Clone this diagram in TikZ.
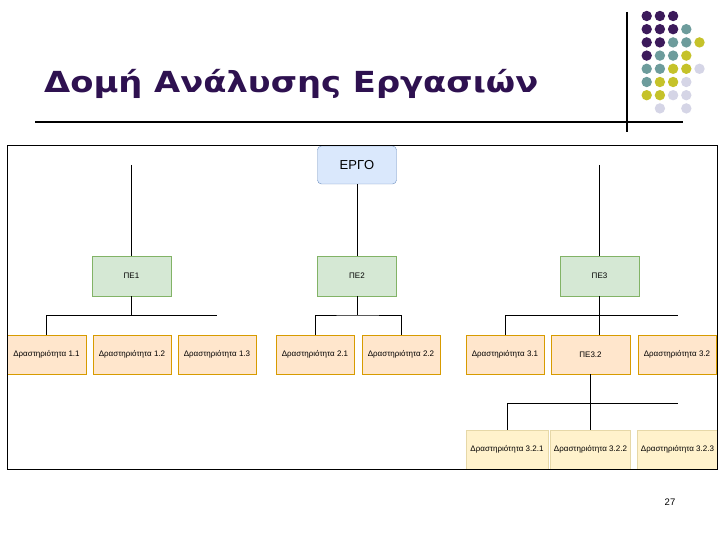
\documentclass[tikz,border=0pt]{standalone}
\usepackage{fontspec}
\setmainfont{Liberation Sans}
\newfontfamily\titlefont{DejaVu Sans}
\definecolor{titlepurple}{HTML}{2E1150}
\definecolor{dotpurple}{HTML}{3C1A5B}
\definecolor{dotteal}{HTML}{6D9C9C}
\definecolor{dotyellow}{HTML}{C5C22A}
\definecolor{dotlilac}{HTML}{D5D5E6}
\definecolor{rootfill}{HTML}{DAE8FC}
\definecolor{rootline}{HTML}{6C8EBF}
\definecolor{wpfill}{HTML}{D5E8D4}
\definecolor{wpline}{HTML}{82B366}
\definecolor{actfill}{HTML}{FFE6CC}
\definecolor{actline}{HTML}{D79B00}
\definecolor{subfill}{HTML}{FFF2CC}
\definecolor{subline}{HTML}{E6D8A8}
\tikzset{
  rootbox/.style={draw=rootline, fill=rootfill, rounded corners=4pt, minimum width=79pt, minimum height=38pt, font=\fontsize{13}{15}\selectfont},
  wpbox/.style={draw=wpline, fill=wpfill, minimum width=79pt, minimum height=40pt, font=\fontsize{8}{9}\selectfont},
  actbox/.style={draw=actline, fill=actfill, minimum width=78.5pt, minimum height=39pt, font=\fontsize{8}{9}\selectfont},
  subbox/.style={draw=subline, fill=subfill, minimum width=79pt, minimum height=39pt, font=\fontsize{8}{9}\selectfont},
  link/.style={line width=0.9pt}
}
\begin{document}
\begin{tikzpicture}[x=1pt, y=-1pt]
    \useasboundingbox (0,0) rectangle (720,540);
    % Titolo
    \node[anchor=base west, inner sep=0pt, text=titlepurple, font=\titlefont\bfseries\fontsize{29}{34}\selectfont] (title) at (44,93) {\scalebox{1.165}[1]{Δομή Ανάλυσης Εργασιών}};
    \draw[line width=2pt] (35,122) -- (683,122);
    \draw[line width=1.3pt] (627,12) -- (627,132);
    % Pallini
    \foreach \c/\r/\col in {1/1/dotpurple, 2/1/dotpurple, 3/1/dotpurple,
        1/2/dotpurple, 2/2/dotpurple, 3/2/dotpurple, 4/2/dotteal,
        1/3/dotpurple, 2/3/dotpurple, 3/3/dotteal, 4/3/dotteal, 5/3/dotyellow,
        1/4/dotpurple, 2/4/dotteal, 3/4/dotteal, 4/4/dotyellow,
        1/5/dotteal, 2/5/dotteal, 3/5/dotyellow, 4/5/dotyellow, 5/5/dotlilac,
        1/6/dotteal, 2/6/dotyellow, 3/6/dotyellow, 4/6/dotlilac,
        1/7/dotyellow, 2/7/dotyellow, 3/7/dotlilac, 4/7/dotlilac,
        2/8/dotlilac, 4/8/dotlilac}
        \fill[\col] ({633.5+13.2*\c},{2.8+13.2*\r}) circle (5.2pt);
    % Radice
    \node[rootbox] (ergo) at (357,165) {ΕΡΓΟ};
    % Pacchetti di lavoro
    \node[wpbox] (pe1) at (131.5,276) {ΠΕ1};
    \node[wpbox] (pe2) at (357,276) {ΠΕ2};
    \node[wpbox] (pe3) at (599.5,276) {ΠΕ3};
    % Attivita
    \node[actbox] (a11) at (46.5,354.5) {Δραστηριότητα 1.1};
    \node[actbox] (a12) at (132,354.5) {Δραστηριότητα 1.2};
    \node[actbox] (a13) at (217,354.5) {Δραστηριότητα 1.3};
    \node[actbox] (a21) at (315,354.5) {Δραστηριότητα 2.1};
    \node[actbox] (a22) at (401,354.5) {Δραστηριότητα 2.2};
    \node[actbox] (a31) at (505,354.5) {Δραστηριότητα 3.1};
    \node[actbox] (pe32) at (590.5,354.5) {ΠΕ3.2};
    \node[actbox] (a32) at (677,354.5) {Δραστηριότητα 3.2};
    % Sotto-attivita
    \node[subbox, minimum width=82pt] (a321) at (507,449.5) {Δραστηριότητα 3.2.1};
    \node[subbox] (a322) at (590.5,449.5) {Δραστηριότητα 3.2.2};
    \node[subbox] (a323) at (677.5,449.5) {Δραστηριότητα 3.2.3};
    % Collegamenti
    \coordinate (top1) at (131.5,165);
    \coordinate (top3) at (599.5,165);
    \coordinate (bus1) at (217,315);
    \coordinate (bus2) at (357,315);
    \coordinate (bus3) at (678,315);
    \coordinate (bus4) at (678,403);
    \draw[link] (top1) -- (pe1);
    \draw[link] (top3) -- (pe3);
    \draw[link] (ergo) -- (pe2);
    \draw[link] (pe1) -- (pe1 |- bus1);
    \draw[link] (a11.north) |- (bus1);
    \draw[link] (pe2) -- (bus2);
    \draw[link] (a21.north) |- (bus2) -| (a22.north);
    \draw[link] (a31.north) |- (bus3);
    \draw[link] (pe3.south) -- (pe3.south |- pe32.north);
    \draw[link] (a321.north) |- (bus4);
    \draw[link] (pe32.south) -- (pe32.south |- a322.north);
    % Cornice
    \draw[line width=0.9pt] (7,145) rectangle (717,469);
    % Numero di pagina
    \node[font=\fontsize{9.5}{11}\selectfont] (pagenum) at (670,502) {27};
\end{tikzpicture}
\end{document}
